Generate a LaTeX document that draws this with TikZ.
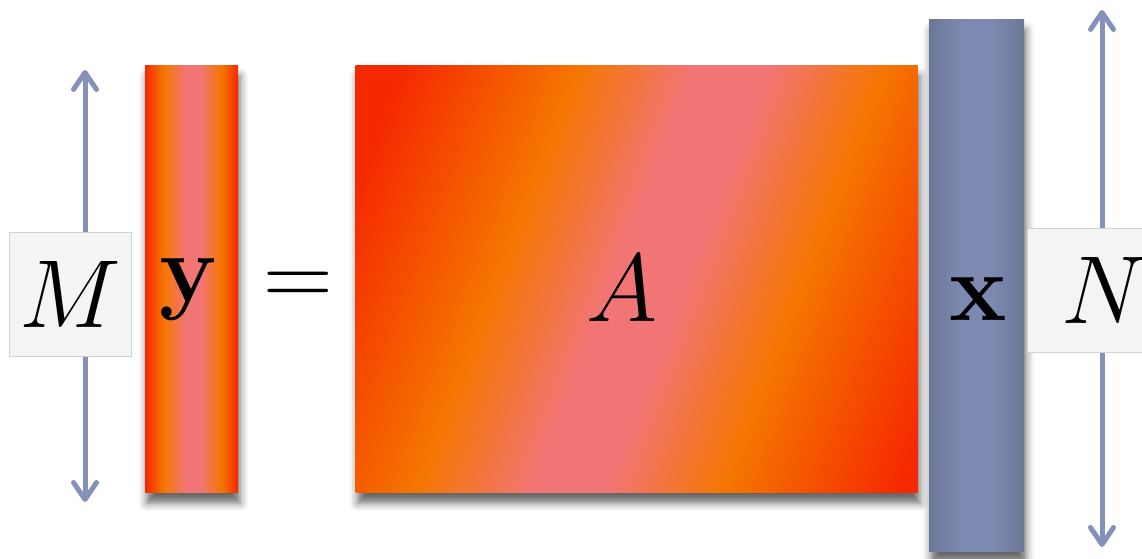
\documentclass[tikz,border=0pt]{standalone}
\usepackage{xcolor}
\usetikzlibrary{arrows.meta,positioning,shadows.blur}
\definecolor{barred}{RGB}{245,40,0}
\definecolor{barorange}{RGB}{245,118,0}
\definecolor{barpink}{RGB}{242,117,117}
\definecolor{xdark}{RGB}{108,119,150}
\definecolor{xlight}{RGB}{124,138,177}
\definecolor{arrowblue}{RGB}{132,146,186}
\definecolor{boxgray}{RGB}{244,244,244}
\definecolor{boxline}{RGB}{210,210,210}
\pgfdeclarehorizontalshading{yband}{100bp}{color(0bp)=(barred); color(25bp)=(barred); color(35bp)=(barorange); color(47bp)=(barpink); color(55bp)=(barpink); color(66bp)=(barorange); color(75bp)=(barred); color(100bp)=(barred)}
\pgfdeclarehorizontalshading{aband}{100bp}{color(0bp)=(barred); color(30.6bp)=(barred); color(41bp)=(barorange); color(47.8bp)=(barpink); color(52.2bp)=(barpink); color(59bp)=(barorange); color(69.4bp)=(barred); color(100bp)=(barred)}
\pgfdeclarehorizontalshading{xband}{100bp}{color(0bp)=(xdark); color(25bp)=(xdark); color(42bp)=(xlight); color(58bp)=(xlight); color(75bp)=(xdark); color(100bp)=(xdark)}

\begin{document}
\begin{tikzpicture}[
  dimbox/.style={draw=boxline, fill=boxgray, inner sep=0pt, minimum height=2.48cm},
  dimarr/.style={{Straight Barb[length=3.4mm, width=4.6mm, round]}-{Straight Barb[length=3.4mm, width=4.6mm, round]}, line width=1mm, draw=arrowblue, line cap=round},
  bar/.style={shade, inner sep=0pt, blur shadow={shadow xshift=0.04cm, shadow yshift=-0.2cm, shadow blur radius=0.16cm, shadow opacity=60}},
  sym/.style={inner sep=0pt, font=\Huge, scale=2.21, transform shape}
]
  \clip (0,0) rectangle (22.84,11.18);

  % dimension arrows go under the M and N boxes
  \coordinate (Mtop) at (1.70,9.78);
  \coordinate (Mbot) at (1.70,1.14);
  \coordinate (Ntop) at (22.04,10.98);
  \coordinate (Nbot) at (22.04,0.24);
  \draw[dimarr] (Mtop) -- (Mbot);
  \draw[dimarr] (Ntop) -- (Nbot);

  % y = A x
  \node[bar, shading=yband, minimum width=1.86cm, minimum height=8.54cm] (ybar) at (3.83,5.59) {};
  \coordinate (Apink) at (13.00,5.58);
  \node[bar, minimum width=11.24cm, minimum height=8.54cm, right=2.34cm of ybar,
    path picture={
      \begin{scope}[transform canvas={rotate around={-21:(Apink)}}]
        \shade[shading=aband] ([shift={(-8,-9)}]Apink) rectangle ([shift={(8,9)}]Apink);
      \end{scope}}] (Abox) {};
  \node[bar, shading=xband, minimum width=1.90cm, minimum height=10.64cm] (xbar) at (19.53,5.46) {};

  \node[dimbox, minimum width=2.44cm] (Mbox) at (1.40,5.30) {};
  \node[dimbox, minimum width=3.08cm] (Nbox) at (22.08,5.38) {};

  \node[sym] (Mlbl) at (Mbox) {$M$};
  \node[sym] (Nlbl) at (Nbox) {$N$};
  \node[sym] (ylbl) at (3.77,5.40) {$\mathbf{y}$};
  \node[sym] (eq) at (5.96,5.40) {$=$};
  \node[sym] (Albl) at (12.44,5.42) {$A$};
  \node[sym] (xlbl) at (19.56,5.20) {$\mathbf{x}$};
\end{tikzpicture}
\end{document}
